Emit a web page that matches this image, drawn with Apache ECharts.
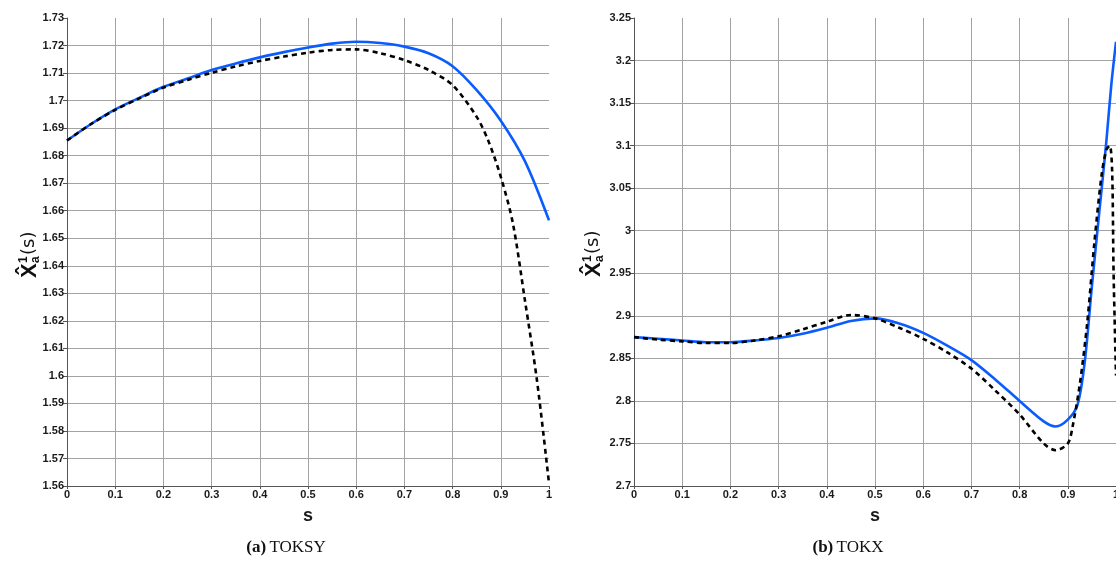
<!DOCTYPE html>
<html>
<head>
<meta charset="utf-8">
<script src="https://cdn.jsdelivr.net/npm/echarts@6/dist/echarts.min.js"></script>
<style>
  html, body { margin: 0; padding: 0; background: #fff; }
  #chart { width: 1116px; height: 565px; }
</style>
</head>
<body>
<div id="chart"></div>
<script>
// TOKSY: estimated curve (blue) and reference curve (dashed)
const toksyS = [0, 0.05, 0.1, 0.15, 0.2, 0.25, 0.3, 0.35, 0.4, 0.45, 0.5, 0.55, 0.6, 0.65, 0.7, 0.75, 0.8, 0.85, 0.9, 0.95, 1.0];
const toksyBlue = [1.6855, 1.6915, 1.6968, 1.701, 1.705, 1.708, 1.7111, 1.7135, 1.7157, 1.7176, 1.7193, 1.7207, 1.7214, 1.7209, 1.7196, 1.7172, 1.7125, 1.7038, 1.6927, 1.678, 1.6565];
const toksyDashS = [0, 0.05, 0.1, 0.15, 0.2, 0.25, 0.3, 0.35, 0.4, 0.45, 0.5, 0.55, 0.6, 0.65, 0.7, 0.75, 0.8, 0.85, 0.875, 0.9, 0.925, 0.95, 0.975, 1.0];
const toksyDash = [1.6855, 1.6915, 1.6966, 1.7008, 1.7047, 1.7075, 1.7101, 1.7124, 1.7144, 1.716, 1.7174, 1.7184, 1.7186, 1.7172, 1.7147, 1.7111, 1.7056, 1.6941, 1.685, 1.6723, 1.6555, 1.6275, 1.5984, 1.561];

// TOKX
const tokxS = [0, 0.05, 0.1, 0.15, 0.2, 0.25, 0.3, 0.35, 0.4, 0.45, 0.5, 0.55, 0.6, 0.65, 0.7, 0.75, 0.8, 0.85, 0.875, 0.9, 0.92, 0.935, 0.95, 0.965, 0.98, 0.99, 1.0];
const tokxBlue = [2.875, 2.873, 2.871, 2.869, 2.869, 2.871, 2.874, 2.879, 2.886, 2.894, 2.897, 2.891, 2.880, 2.865, 2.848, 2.825, 2.800, 2.776, 2.770, 2.778, 2.795, 2.845, 2.935, 3.02, 3.105, 3.17, 3.222];
const tokxDashS = [0, 0.05, 0.1, 0.15, 0.2, 0.25, 0.3, 0.35, 0.4, 0.45, 0.5, 0.55, 0.6, 0.65, 0.7, 0.75, 0.8, 0.85, 0.875, 0.9, 0.91, 0.925, 0.94, 0.955, 0.97, 0.98, 0.987, 0.992, 0.995, 1.0];
const tokxDash = [2.875, 2.872, 2.870, 2.868, 2.868, 2.871, 2.876, 2.884, 2.893, 2.901, 2.897, 2.886, 2.873, 2.857, 2.838, 2.812, 2.784, 2.750, 2.742, 2.750, 2.770, 2.820, 2.890, 2.985, 3.065, 3.095, 3.100, 3.070, 2.950, 2.830];

const zip = (xs, ys) => xs.map((x, i) => [x, ys[i]]);

const axisColor = '#555';
const gridColor = '#a3a3a3';
const labelFont = { fontFamily: 'Liberation Sans', fontWeight: 'bold', fontSize: 11, color: '#1a1a1a' };

function xAxis(gridIndex) {
  return {
    type: 'value', gridIndex, min: 0, max: 1, interval: 0.1,
    name: 's', nameLocation: 'middle', nameGap: 21,
    nameTextStyle: { fontFamily: 'Liberation Sans', fontWeight: 'bold', fontSize: 18, color: '#1a1a1a' },
    axisLine: { show: true, lineStyle: { color: axisColor, width: 1 } },
    axisTick: { show: true, length: 3, lineStyle: { color: axisColor } },
    axisLabel: Object.assign({ margin: 3, formatter: v => String(+v.toFixed(1)) }, labelFont),
    splitLine: { show: true, showMinLine: false, showMaxLine: false, lineStyle: { color: gridColor, width: 1 } }
  };
}

function yAxis(gridIndex, min, max, interval, digits) {
  return {
    type: 'value', gridIndex, min, max, interval,
    axisLine: { show: true, lineStyle: { color: axisColor, width: 1 } },
    axisTick: { show: true, length: 4, lineStyle: { color: axisColor } },
    axisLabel: Object.assign({ margin: 3, formatter: v => String(+v.toFixed(digits)) }, labelFont),
    splitLine: { show: true, showMinLine: false, showMaxLine: false, lineStyle: { color: gridColor, width: 1 } }
  };
}

function blueLine(idx, data) {
  return {
    type: 'line', xAxisIndex: idx, yAxisIndex: idx, data, showSymbol: false,
    smooth: 0.3, z: 3,
    lineStyle: { color: '#0a5cff', width: 2.6 }
  };
}
function dashLine(idx, data) {
  return {
    type: 'line', xAxisIndex: idx, yAxisIndex: idx, data, showSymbol: false,
    smooth: 0.3, z: 4,
    lineStyle: { color: '#000', width: 2.6, type: [5, 4] }
  };
}

// rotated y-axis title: X-hat with superscript 1 and subscript a, then (s)
function yTitle(cx, cy) {
  return {
    type: 'group', x: cx, y: cy, rotation: Math.PI / 2,
    children: [
      { type: 'text', style: { x: -26, y: 1, text: 'X\u0302', font: 'bold 22px "Liberation Sans"', fill: '#111', verticalAlign: 'middle', align: 'left' } },
      { type: 'text', style: { x: -11, y: -5, text: '1', font: 'bold 12px "Liberation Sans"', fill: '#111', verticalAlign: 'middle', align: 'left' } },
      { type: 'text', style: { x: -11, y: 7, text: 'a', font: 'bold 12px "Liberation Sans"', fill: '#111', verticalAlign: 'middle', align: 'left' } },
      { type: 'text', style: { x: -3, y: 0, text: '(s)', font: '18px "DejaVu Sans"', fill: '#111', verticalAlign: 'middle', align: 'left' } }
    ]
  };
}

function caption(cx, tag, label) {
  return {
    type: 'text', x: cx, y: 548,
    style: {
      text: '{b|' + tag + '} {n|' + label + '}',
      align: 'center', verticalAlign: 'middle',
      rich: {
        b: { font: 'bold 17px "Liberation Serif"', fill: '#111' },
        n: { font: '17px "Liberation Serif"', fill: '#111' }
      }
    }
  };
}

const chart = echarts.init(document.getElementById('chart'), null, { renderer: 'canvas' });
chart.setOption({
  backgroundColor: '#fff',
  animation: false,
  grid: [
    { left: 67, right: 567, top: 18, bottom: 79, containLabel: false, outerBoundsMode: 'none' },
    { left: 634, right: 0, top: 18, bottom: 79, containLabel: false, outerBoundsMode: 'none' }
  ],
  xAxis: [xAxis(0), xAxis(1)],
  yAxis: [yAxis(0, 1.56, 1.73, 0.01, 2), yAxis(1, 2.7, 3.25, 0.05, 2)],
  series: [
    blueLine(0, zip(toksyS, toksyBlue)),
    dashLine(0, zip(toksyDashS, toksyDash)),
    blueLine(1, zip(tokxS, tokxBlue)),
    dashLine(1, zip(tokxDashS, tokxDash))
  ],
  graphic: [
    yTitle(29, 252),
    yTitle(593, 251),
    caption(286, '(a)', 'TOKSY'),
    caption(848, '(b)', 'TOKX')
  ]
});
</script>
</body>
</html>
